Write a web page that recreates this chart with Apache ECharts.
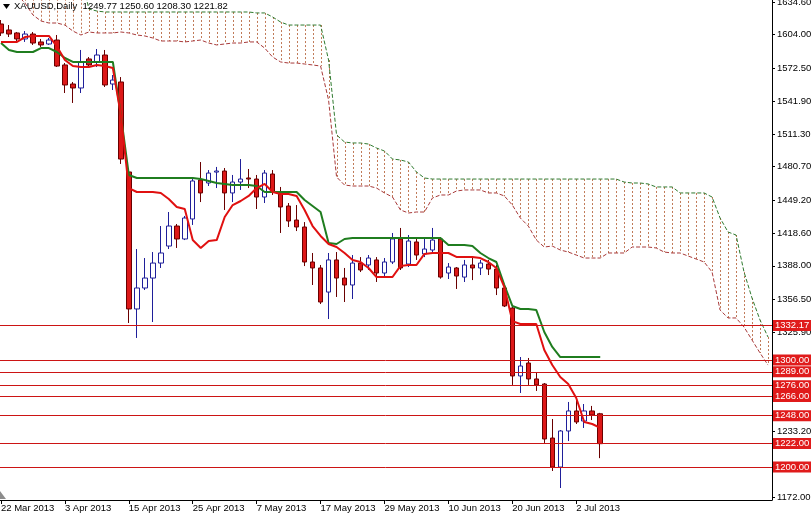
<!DOCTYPE html>
<html>
<head>
<meta charset="utf-8">
<script src="https://cdn.jsdelivr.net/npm/echarts@6/dist/echarts.min.js"></script>
<style>
html,body{margin:0;padding:0;background:#fff;}
#chart{width:811px;height:516px;}
</style>
</head>
<body>
<div id="chart"></div>
<script>
// ---------- DATA ----------
const dates = [
'22 Mar 2013','25 Mar 2013','26 Mar 2013','27 Mar 2013','28 Mar 2013','29 Mar 2013',
'1 Apr 2013','2 Apr 2013','3 Apr 2013','4 Apr 2013','5 Apr 2013',
'8 Apr 2013','9 Apr 2013','10 Apr 2013','11 Apr 2013','12 Apr 2013',
'15 Apr 2013','16 Apr 2013','17 Apr 2013','18 Apr 2013','19 Apr 2013',
'22 Apr 2013','23 Apr 2013','24 Apr 2013','25 Apr 2013','26 Apr 2013',
'29 Apr 2013','30 Apr 2013','1 May 2013','2 May 2013','3 May 2013',
'6 May 2013','7 May 2013','8 May 2013','9 May 2013','10 May 2013',
'13 May 2013','14 May 2013','15 May 2013','16 May 2013','17 May 2013',
'20 May 2013','21 May 2013','22 May 2013','23 May 2013','24 May 2013',
'27 May 2013','28 May 2013','29 May 2013','30 May 2013','31 May 2013',
'3 Jun 2013','4 Jun 2013','5 Jun 2013','6 Jun 2013','7 Jun 2013',
'10 Jun 2013','11 Jun 2013','12 Jun 2013','13 Jun 2013','14 Jun 2013',
'17 Jun 2013','18 Jun 2013','19 Jun 2013','20 Jun 2013','21 Jun 2013',
'24 Jun 2013','25 Jun 2013','26 Jun 2013','27 Jun 2013','28 Jun 2013',
'1 Jul 2013','2 Jul 2013','3 Jul 2013','4 Jul 2013','5 Jul 2013',
'8 Jul 2013','9 Jul 2013','10 Jul 2013','11 Jul 2013','12 Jul 2013',
'15 Jul 2013','16 Jul 2013','17 Jul 2013','18 Jul 2013','19 Jul 2013',
'22 Jul 2013','23 Jul 2013','24 Jul 2013','25 Jul 2013','26 Jul 2013',
'29 Jul 2013','30 Jul 2013','31 Jul 2013','1 Aug 2013','2 Aug 2013','5 Aug 2013'
];

const xTickLabels = ['22 Mar 2013','3 Apr 2013','15 Apr 2013','25 Apr 2013','7 May 2013',
  '17 May 2013','29 May 2013','10 Jun 2013','20 Jun 2013','2 Jul 2013'];

const yTickValues = [1172.00, 1233.20, 1325.90, 1356.50, 1388.00, 1418.60, 1449.20,
  1480.70, 1511.30, 1541.90, 1572.50, 1604.00, 1634.60];

const levels = [1332.17, 1300.00, 1289.00, 1276.00, 1266.00, 1248.00, 1222.00, 1200.00];

const openP = [1614.0, 1608.4, 1605.6, 1600.0, 1604.6, 1597.2, 1595.3, 1599.0, 1575.7, 1557.9,
 1554.2, 1581.3, 1578.5, 1585.0, 1557.9, 1559.8, 1475.7, 1347.7, 1367.3, 1376.6,
 1390.6, 1406.5, 1425.2, 1413.1, 1431.8, 1468.2, 1465.4, 1475.6, 1476.6, 1456.1,
 1466.3, 1470.1, 1469.1, 1452.3, 1473.8, 1455.1, 1443.9, 1430.8, 1424.3, 1391.6,
 1386.0, 1363.5, 1393.5, 1376.6, 1370.1, 1390.6, 1388.8, 1393.5, 1381.3, 1391.6,
 1413.1, 1389.7, 1410.3, 1399.1, 1402.8, 1413.1, 1381.3, 1386.0, 1377.5, 1388.8,
 1386.0, 1389.7, 1385.0, 1367.3, 1348.6, 1285.1, 1297.2, 1282.3, 1277.6, 1227.1,
 1200.0, 1233.7, 1252.4, 1243.0, 1252.4, 1249.77];

const highP = [1617.7, 1613.0, 1606.5, 1607.4, 1606.5, 1600.0, 1600.9, 1603.7, 1577.5, 1559.8,
 1589.7, 1583.1, 1590.6, 1589.7, 1566.3, 1564.4, 1477.5, 1403.7, 1395.3, 1400.9,
 1425.2, 1438.3, 1427.1, 1434.6, 1470.1, 1485.0, 1477.5, 1480.4, 1479.4, 1472.9,
 1487.8, 1478.5, 1472.9, 1477.5, 1477.5, 1461.7, 1446.7, 1444.8, 1428.9, 1400.0,
 1388.8, 1400.0, 1400.9, 1386.0, 1398.1, 1396.2, 1398.1, 1396.2, 1395.3, 1418.7,
 1423.4, 1416.8, 1414.9, 1414.0, 1423.4, 1414.9, 1390.6, 1386.9, 1393.5, 1395.3,
 1393.5, 1393.5, 1388.8, 1370.1, 1350.5, 1302.8, 1301.9, 1288.8, 1278.5, 1244.9,
 1234.6, 1260.8, 1264.5, 1258.9, 1257.1, 1250.60];

const lowP = [1602.8, 1601.8, 1596.2, 1597.2, 1594.4, 1592.5, 1594.4, 1573.8, 1549.5, 1540.2,
 1549.5, 1572.9, 1573.8, 1555.1, 1552.3, 1483.2, 1334.6, 1320.6, 1365.4, 1335.5,
 1386.0, 1403.7, 1404.7, 1412.1, 1426.2, 1447.6, 1462.6, 1460.7, 1440.2, 1447.6,
 1458.9, 1460.7, 1441.1, 1446.7, 1454.2, 1418.7, 1424.3, 1420.5, 1387.8, 1370.1,
 1352.3, 1338.3, 1358.9, 1354.2, 1357.0, 1382.2, 1384.1, 1372.9, 1377.5, 1389.7,
 1384.1, 1386.9, 1393.5, 1396.2, 1400.9, 1376.0, 1375.7, 1366.4, 1372.9, 1374.7,
 1379.4, 1379.4, 1360.7, 1349.5, 1276.7, 1269.2, 1276.7, 1271.1, 1222.5, 1196.3,
 1180.4, 1224.3, 1240.2, 1236.5, 1243.9, 1208.30];

const closeP = [1605.6, 1604.6, 1600.0, 1604.6, 1596.2, 1594.4, 1599.0, 1574.7, 1557.0, 1554.2,
 1578.5, 1575.7, 1585.0, 1557.0, 1561.6, 1487.8, 1347.7, 1367.3, 1376.6, 1390.6,
 1400.0, 1425.2, 1413.1, 1432.7, 1467.3, 1456.1, 1474.7, 1476.6, 1456.1, 1466.3,
 1469.1, 1469.1, 1452.3, 1474.7, 1457.0, 1443.0, 1429.9, 1424.3, 1391.6, 1386.0,
 1354.2, 1393.5, 1376.6, 1370.1, 1390.6, 1384.1, 1395.3, 1381.3, 1391.6, 1413.1,
 1386.0, 1411.2, 1398.1, 1403.7, 1412.1, 1377.5, 1386.9, 1378.5, 1388.8, 1386.0,
 1390.6, 1385.0, 1367.3, 1350.5, 1285.1, 1294.4, 1282.3, 1276.7, 1226.2, 1200.0,
 1233.7, 1252.4, 1242.1, 1252.4, 1248.6, 1221.82];

// Tenkan-sen (red)
const tenkan = [1597.2, 1597.2, 1597.2, 1601.8, 1602.8, 1602.8, 1602.8, 1593.0, 1580.3, 1574.7,
 1573.8, 1573.8, 1575.7, 1574.7, 1572.9, 1529.0, 1460.7, 1457.0, 1457.0, 1457.0,
 1456.1, 1450.5, 1443.0, 1441.1, 1412.1, 1404.7, 1411.2, 1412.1, 1433.6, 1444.8,
 1448.6, 1453.3, 1460.7, 1464.5, 1457.0, 1455.1, 1455.1, 1453.3, 1440.2, 1425.2,
 1415.9, 1408.4, 1405.6, 1400.0, 1393.5, 1391.6, 1386.0, 1377.6, 1377.6, 1377.6,
 1387.9, 1388.8, 1388.8, 1399.1, 1400.0, 1400.0, 1400.0, 1396.3, 1396.3, 1396.3,
 1395.3, 1391.6, 1386.0, 1368.2, 1336.4, 1333.6, 1333.6, 1333.6, 1309.4, 1295.3,
 1284.1, 1277.6, 1264.5, 1242.1, 1240.2, 1236.5];

// Kijun-sen (green)
const kijun = [1596.2, 1589.7, 1587.8, 1587.8, 1587.8, 1591.5, 1591.5, 1587.8, 1582.2, 1578.5,
 1578.5, 1578.5, 1578.5, 1578.5, 1578.5, 1529.0, 1472.9, 1470.1, 1470.1, 1470.1,
 1470.1, 1470.1, 1470.1, 1470.1, 1470.1, 1469.1, 1467.3, 1465.4, 1464.5, 1463.5,
 1463.5, 1463.5, 1462.6, 1457.0, 1457.0, 1457.0, 1457.0, 1457.0, 1449.5, 1443.9,
 1438.3, 1409.3, 1408.4, 1413.1, 1414.0, 1414.0, 1414.0, 1414.0, 1414.0, 1414.0,
 1414.0, 1414.0, 1414.0, 1414.0, 1414.0, 1414.0, 1407.5, 1407.5, 1407.5, 1406.5,
 1400.0, 1395.3, 1391.6, 1370.1, 1350.5, 1347.7, 1347.7, 1346.7, 1326.2, 1312.2,
 1302.8, 1302.8, 1302.8, 1302.8, 1302.8, 1302.8];

// Cloud upper edge (green dotted) and lower edge (red dotted)
const cloudTop = [1660, 1660, 1660, 1660, 1660, 1660, 1660, 1660, 1660, 1660,
 1660, 1628.0, 1626.1, 1625.2, 1625.2, 1625.2, 1625.2, 1625.2, 1625.2, 1625.2,
 1625.2, 1625.2, 1625.2, 1625.2, 1625.2, 1625.2, 1625.2, 1625.2, 1625.2, 1625.2,
 1625.2, 1625.2, 1624.3, 1624.3, 1620.5, 1615.8, 1613.0, 1613.0, 1613.0, 1613.0,
 1613.0, 1580.3, 1510.3, 1503.7, 1502.8, 1502.8, 1501.8, 1498.1, 1495.3, 1487.8,
 1486.9, 1485.0, 1475.7, 1470.1, 1469.1, 1469.1, 1469.1, 1469.1, 1469.1, 1469.1,
 1469.1, 1469.1, 1469.1, 1469.1, 1469.1, 1469.1, 1469.1, 1469.1, 1469.1, 1469.1,
 1469.1, 1469.1, 1469.1, 1469.1, 1469.1, 1469.1, 1469.1, 1469.1, 1466.3, 1465.4,
 1465.4, 1464.5, 1461.7, 1461.7, 1461.7, 1456.1, 1456.1, 1456.1, 1456.1, 1452.3,
 1432.7, 1419.6, 1416.8, 1382.2, 1357.9, 1337.4, 1321.5];

const cloudBottom = [1650.4, 1645.7, 1641.1, 1633.6, 1622.4, 1616.8, 1614.9, 1614.9, 1613.0, 1607.4,
 1603.7, 1606.5, 1605.6, 1605.6, 1605.6, 1606.5, 1605.6, 1603.7, 1602.8, 1600.9,
 1598.1, 1598.1, 1598.1, 1597.2, 1598.1, 1599.0, 1596.2, 1594.4, 1595.3, 1596.2,
 1596.2, 1597.2, 1597.2, 1591.5, 1583.1, 1578.5, 1577.5, 1577.5, 1576.6, 1575.7,
 1574.7, 1543.0, 1471.0, 1463.5, 1462.6, 1462.6, 1462.6, 1460.7, 1456.1, 1452.3,
 1440.2, 1437.4, 1438.3, 1438.3, 1451.4, 1454.2, 1454.2, 1457.9, 1458.9, 1458.9,
 1458.9, 1456.1, 1456.1, 1453.3, 1444.8, 1432.7, 1425.2, 1412.1, 1405.6, 1406.5,
 1402.8, 1400.9, 1398.1, 1395.3, 1395.3, 1395.3, 1400.0, 1400.0, 1400.0, 1405.6,
 1405.6, 1405.6, 1404.7, 1400.9, 1400.0, 1400.0, 1397.2, 1394.4, 1391.6, 1382.2,
 1346.7, 1339.3, 1339.3, 1330.8, 1318.7, 1306.6, 1295.3];

const symbolName = 'XAUUSD,Daily';

// ---------- BUILD ----------
const FONT = '"Liberation Sans", Arial, sans-serif';
const candleData = openP.map((o, i) => [o, closeP[i], lowP[i], highP[i]]);
const hatchData = dates.map((d, i) => [i, cloudTop[i], cloudBottom[i]]);
const last = openP.length - 1;
const titleText = symbolName + '  ' + openP[last].toFixed(2) + ' ' + highP[last].toFixed(2) + ' ' +
  lowP[last].toFixed(2) + ' ' + closeP[last].toFixed(2);

const chart = echarts.init(document.getElementById('chart'), null, {renderer: 'canvas'});
chart.setOption({
  animation: false,
  backgroundColor: '#ffffff',
  grid: {left: -3, right: 39, top: 0, bottom: 16, containLabel: false, outerBoundsMode: 'none'},
  xAxis: {
    type: 'category',
    data: dates,
    boundaryGap: true,
    axisLine: {show: true, lineStyle: {color: '#000', width: 1}},
    axisTick: {show: true, alignWithLabel: true, length: 4, lineStyle: {color: '#000'},
      interval: (idx, val) => xTickLabels.indexOf(val) >= 0},
    axisLabel: {show: true, align: 'left', margin: 3, color: '#000', fontSize: 9.5, fontFamily: FONT,
      interval: (idx, val) => xTickLabels.indexOf(val) >= 0},
    splitLine: {show: false}
  },
  yAxis: {
    type: 'value',
    position: 'right',
    min: 1169.2,
    max: 1636.4,
    scale: true,
    axisLine: {show: true, lineStyle: {color: '#000', width: 1}},
    axisTick: {show: true, length: 3, lineStyle: {color: '#000'}, customValues: yTickValues},
    axisLabel: {show: true, margin: 5, color: '#000', fontSize: 9.5, fontFamily: FONT,
      customValues: yTickValues, formatter: v => Number(v).toFixed(2)},
    splitLine: {show: false}
  },
  graphic: [
    {type: 'polygon', shape: {points: [[3, 4], [10, 4], [6.5, 9]]}, style: {fill: '#000'}, z: 100},
    {type: 'polygon', shape: {points: [[0, 491], [0, 499], [6, 499]]}, style: {fill: '#8c8c8c'}, z: 100},
    {type: 'text', left: 14, top: 1, z: 100,
      style: {text: titleText, fill: '#000', fontSize: 9.5, fontFamily: FONT}}
  ],
  series: [
    {
      type: 'custom',
      name: 'cloud',
      z: 1,
      clip: true,
      silent: true,
      data: hatchData,
      encode: {x: 0, y: [1, 2]},
      renderItem: function (params, api) {
        const i = api.value(0);
        const p1 = api.coord([i, api.value(1)]);
        const p2 = api.coord([i, api.value(2)]);
        const x = Math.round(p1[0]) + 0.5;
        return {type: 'line', shape: {x1: x, y1: p1[1], x2: x, y2: p2[1]},
          style: {stroke: '#c07a58', lineWidth: 1, lineDash: [2, 2]}};
      }
    },
    {
      type: 'line', name: 'spanTop', data: cloudTop, z: 2, symbol: 'none', silent: true,
      lineStyle: {color: '#2f7a2f', width: 1, type: [4, 2]}
    },
    {
      type: 'line', name: 'spanBottom', data: cloudBottom, z: 2, symbol: 'none', silent: true,
      lineStyle: {color: '#a83a3a', width: 1, type: [4, 2]}
    },
    {
      type: 'candlestick', name: 'XAUUSD', data: candleData, z: 3, barWidth: 5, silent: true,
      itemStyle: {color: '#ffffff', borderColor: '#1f1f9a', color0: '#dd1818', borderColor0: '#6a0000', borderWidth: 1},
      markLine: {
        silent: true,
        symbol: ['none', 'none'],
        lineStyle: {color: '#cc1414', width: 1, type: 'solid'},
        label: {show: true, position: 'end', distance: 1, color: '#fff', backgroundColor: '#e01b1b',
          padding: [1, 2, 0, 2], fontSize: 9.5, fontFamily: FONT,
          formatter: p => Number(p.value).toFixed(2)},
        emphasis: {disabled: true},
        data: levels.map(v => ({yAxis: v}))
      }
    },
    {
      type: 'line', name: 'Kijun', data: kijun, z: 4, symbol: 'none', silent: true,
      lineStyle: {color: '#1f7d1f', width: 2}
    },
    {
      type: 'line', name: 'Tenkan', data: tenkan, z: 5, symbol: 'none', silent: true,
      lineStyle: {color: '#e01010', width: 2}
    }
  ]
});
</script>
</body>
</html>
